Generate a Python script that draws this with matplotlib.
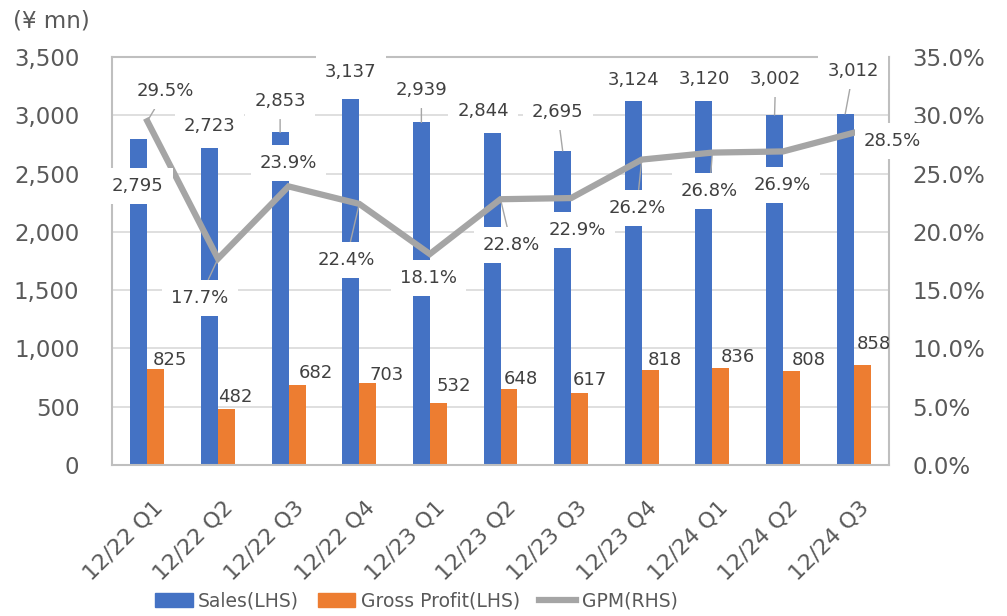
import numpy as np
import matplotlib.pyplot as plt
import matplotlib.transforms as mtransforms
from matplotlib.patches import Patch
from matplotlib.lines import Line2D

# data
quarters = ['12/22 Q1', '12/22 Q2', '12/22 Q3', '12/22 Q4', '12/23 Q1', '12/23 Q2',
            '12/23 Q3', '12/23 Q4', '12/24 Q1', '12/24 Q2', '12/24 Q3']
sales = [2795, 2723, 2853, 3137, 2939, 2844, 2695, 3124, 3120, 3002, 3012]
gross_profit = [825, 482, 682, 703, 532, 648, 617, 818, 836, 808, 858]
gpm = [29.5, 17.7, 23.9, 22.4, 18.1, 22.8, 22.9, 26.2, 26.8, 26.9, 28.5]

# label offsets in pixels (screen dx, dy down) as placed in the original
sales_off = [(-1, 47), (0, -22), (0, -31), (0, -27), (0, -32), (-9, -22),
             (-5, -39), (0, -21), (0, -22), (1, -36), (8, -43)]
sales_leader = [False, False, True, False, True, False, True, False, False, True, True]
gp_off = [(14, -9), (9, -12), (19, -12), (19, -8), (15, -17), (12, -10),
          (10, -13), (15, -10), (17, -11), (17, -11), (12, -21)]
gpm_off = [(18, -30), (-18, 39), (0, -23), (-13, 56), (-1, 24), (11, 46),
           (6, 32), (-5, 48), (-3, 38), (-1, 34), (39, 8)]
gpm_leader = [True, True, False, True, False, True, False, True, True, False, False]

BLUE = '#4472C4'
ORANGE = '#ED7D31'
GREY = '#A5A5A5'
TICK = '#595959'
LABEL = '#404040'

plt.rcParams['font.family'] = ['DejaVu Sans']

fig = plt.figure(figsize=(10.07, 6.16), dpi=100)
ax = fig.add_axes([112 / 1007, 1 - 465 / 616, 777 / 1007, 408 / 616])
ax2 = ax.twinx()

x = np.arange(len(quarters))
w = 0.24
ax.bar(x - w / 2, sales, width=w, color=BLUE, zorder=2)
ax.bar(x + w / 2, gross_profit, width=w, color=ORANGE, zorder=2)

ax.set_xlim(-0.5, len(quarters) - 0.5)
ax.set_ylim(0, 3500)
ax.set_yticks(np.arange(0, 3501, 500))
ax.set_yticklabels([f'{v:,}' for v in range(0, 3501, 500)])
ax.yaxis.grid(True, color='#D9D9D9', lw=1.2)
ax.set_axisbelow(True)
for s in ax.spines.values():
    s.set_color('#BFBFBF')
    s.set_linewidth(1.5)
ax.tick_params(axis='y', length=0, pad=23.5, labelsize=16.5, labelcolor=TICK)
ax.tick_params(axis='x', length=0, pad=23.5, labelsize=16, labelcolor=TICK)
ax.set_xticks(x)
ax.set_xticklabels(quarters, rotation=45, ha='right', va='top', rotation_mode='anchor')
shift = mtransforms.ScaledTranslation(5 / 100, 0, fig.dpi_scale_trans)
for lab in ax.get_xticklabels():
    lab.set_transform(lab.get_transform() + shift)

ax2.plot(x, gpm, color=GREY, lw=4.5, zorder=3, solid_joinstyle='miter')
ax2.set_ylim(0, 35)
ax2.set_yticks(np.arange(0, 36, 5))
ax2.set_yticklabels([f'{v:.1f}%' for v in range(0, 36, 5)])
ax2.tick_params(axis='y', length=0, pad=17, labelsize=16.5, labelcolor=TICK)
for s in ax2.spines.values():
    s.set_visible(False)

box = dict(boxstyle='square,pad=0.5', fc='white', ec='none')
leader = dict(arrowstyle='-', color='#A6A6A6', lw=1, shrinkA=0, shrinkB=0)

# gross profit labels (no box)
for i, v in enumerate(gross_profit):
    dx, dy = gp_off[i]
    ax2.annotate(f'{v:,}', xy=(x[i] + w / 2, v), xycoords=ax.transData,
                 xytext=(dx, -dy), textcoords='offset pixels',
                 ha='center', va='center', fontsize=13, color=LABEL, zorder=5)

# sales labels
for i, v in enumerate(sales):
    dx, dy = sales_off[i]
    ax2.annotate(f'{v:,}', xy=(x[i] - w / 2, v), xycoords=ax.transData,
                 xytext=(dx, -dy), textcoords='offset pixels',
                 ha='center', va='center', fontsize=13, color=LABEL, bbox=box,
                 arrowprops=leader if sales_leader[i] else None, zorder=6)

# GPM labels
for i, v in enumerate(gpm):
    dx, dy = gpm_off[i]
    ax2.annotate(f'{v:.1f}%', xy=(x[i], v), xytext=(dx, -dy), textcoords='offset pixels',
                 ha='center', va='center', fontsize=13, color=LABEL, bbox=box,
                 arrowprops=leader if gpm_leader[i] else None, zorder=6)

fig.text(13 / 1007, 1 - 21 / 616, '(¥ mn)', fontsize=16.5, color=TICK, ha='left', va='center')

handles = [Patch(color=BLUE, label='Sales(LHS)'),
           Patch(color=ORANGE, label='Gross Profit(LHS)'),
           Line2D([], [], color=GREY, lw=4.5, label='GPM(RHS)')]
fig.legend(handles=handles, loc='center left', bbox_to_anchor=(155 / 1007, 1 - 601 / 616),
           ncol=3, frameon=False, fontsize=13.5, labelcolor=TICK, handlelength=2.0,
           handleheight=0.7, handletextpad=0.3, columnspacing=1.0,
           borderpad=0, borderaxespad=0)

fig.savefig('out.png', dpi=100)
